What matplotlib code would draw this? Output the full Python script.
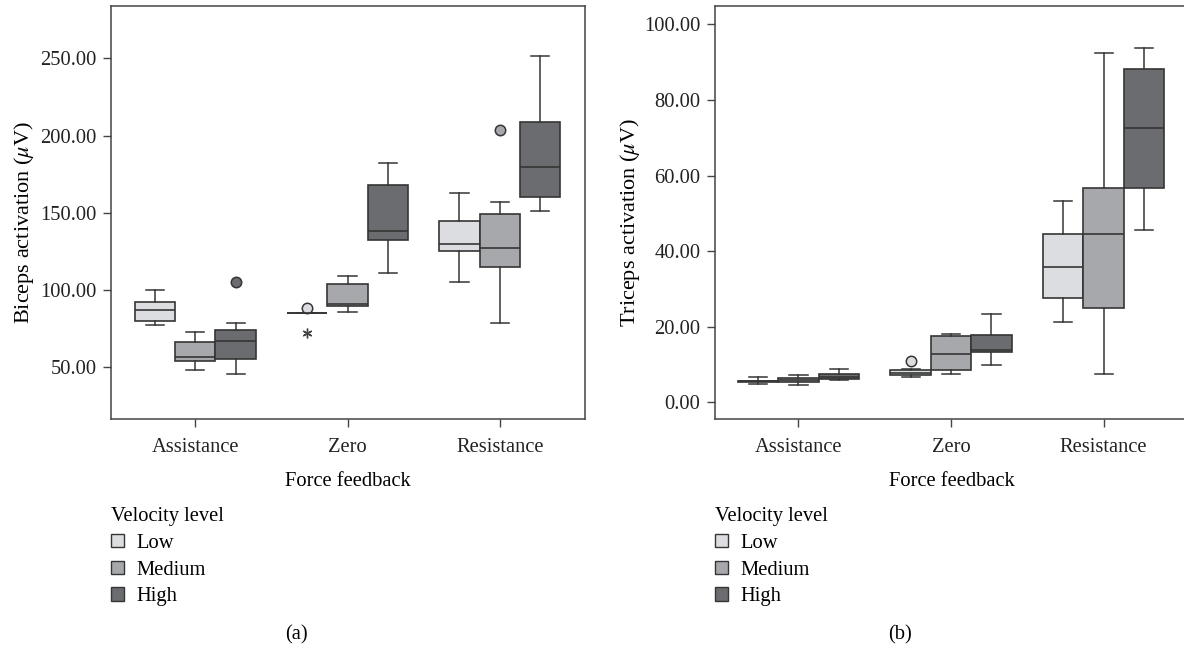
import matplotlib
matplotlib.use("Agg")
import matplotlib.pyplot as plt
from matplotlib.patches import Patch

plt.rcParams["font.family"] = ["Liberation Serif", "DejaVu Serif"]
plt.rcParams["mathtext.fontset"] = "stix"

groups = ["Assistance", "Zero", "Resistance"]
levels = ["Low", "Medium", "High"]
colors = ["#dcdde0", "#a7a8ab", "#6b6c70"]
edge = "#353535"

# box stats per group, per level: (whislo, q1, med, q3, whishi)
biceps = [
    [(77.5, 80.1, 87.4, 92.2, 99.9), (48.6, 54.2, 56.4, 66.1, 72.8), (46.0, 55.5, 67.1, 74.3, 79.0)],
    [(85.3, 85.3, 85.3, 85.3, 85.3), (85.9, 90.0, 91.3, 103.8, 109.4), (111.1, 132.3, 138.3, 168.3, 182.3)],
    [(105.5, 125.2, 130.1, 144.6, 163.1), (79.0, 115.0, 127.5, 149.3, 157.3), (151.0, 160.1, 179.5, 209.0, 251.7)],
]
biceps_fliers = [[[], [], [105.5]], [[88.7], [], []], [[], [203.4], []]]
biceps_extremes = [[[], [], []], [[72.5], [], []], [[], [], []]]

triceps = [
    [(4.7, 5.35, 5.5, 5.65, 6.5), (4.5, 5.2, 5.9, 6.4, 7.2), (5.8, 6.0, 6.6, 7.4, 8.7)],
    [(6.5, 7.2, 7.8, 8.5, 8.7), (7.3, 8.4, 12.7, 17.6, 18.1), (9.8, 13.2, 13.9, 17.7, 23.3)],
    [(21.3, 27.6, 35.7, 44.6, 53.2), (7.3, 24.9, 44.6, 56.8, 92.4), (45.6, 56.8, 72.6, 88.2, 93.9)],
]
triceps_fliers = [[[], [], []], [[10.9], [], []], [[], [], []]]
triceps_extremes = [[[], [], []], [[], [], []], [[], [], []]]

width = 0.265
fs = 14.8


def draw(ax, data, fliers, extremes):
    for g in range(len(groups)):
        for k in range(len(levels)):
            lo, q1, med, q3, hi = data[g][k]
            stats = [dict(whislo=lo, q1=q1, med=med, q3=q3, whishi=hi, fliers=fliers[g][k])]
            pos = g + (k - 1) * width
            ax.bxp(stats, positions=[pos], widths=width, patch_artist=True,
                   capwidths=width * 0.45, manage_ticks=False,
                   boxprops=dict(facecolor=colors[k], edgecolor=edge, linewidth=1.2),
                   medianprops=dict(color=edge, linewidth=1.2),
                   whiskerprops=dict(color=edge, linewidth=1.1),
                   capprops=dict(color=edge, linewidth=1.1),
                   flierprops=dict(marker="o", markersize=7.5, markerfacecolor=colors[k],
                                   markeredgecolor=edge, markeredgewidth=1.1))
            for v in extremes[g][k]:
                ax.plot([pos], [v], marker=(6, 2, 0), markersize=7, color="#444444",
                        markeredgewidth=1.0, linestyle="none")
    ax.set_xticks(range(len(groups)))
    ax.set_xticklabels(groups)
    ax.set_xlabel("Force feedback", fontsize=fs, labelpad=11)
    for s in ax.spines.values():
        s.set_color("#444444")
        s.set_linewidth(1.1)
    ax.tick_params(direction="out", length=5.5, width=1.0, color="#444444",
                   labelsize=fs, labelcolor="#222222")
    ax.tick_params(axis="x", pad=8)
    ax.tick_params(axis="y", pad=5)


fig = plt.figure(figsize=(11.84, 6.52), dpi=100)
ax1 = fig.add_axes([111 / 1184, 1 - 419 / 652, 474 / 1184, 413 / 652])
ax2 = fig.add_axes([715 / 1184, 1 - 419 / 652, 473 / 1184, 413 / 652])

draw(ax1, biceps, biceps_fliers, biceps_extremes)
ax1.set_xlim(-0.553, 2.559)
ax1.set_ylim(16.6, 283.8)
ax1.set_yticks([50, 100, 150, 200, 250])
ax1.set_yticklabels([f"{v:.2f}" for v in [50, 100, 150, 200, 250]])
ax1.set_ylabel(r"Biceps activation ($\mu$V)", fontsize=16)
ax1.yaxis.set_label_coords(-0.159, 0.477)

draw(ax2, triceps, triceps_fliers, triceps_extremes)
ax2.set_xlim(-0.547, 2.553)
ax2.set_ylim(-4.5, 104.9)
ax2.set_yticks([0, 20, 40, 60, 80, 100])
ax2.set_yticklabels([f"{v:.2f}" for v in [0, 20, 40, 60, 80, 100]])
ax2.set_ylabel(r"Triceps activation ($\mu$V)", fontsize=16)
ax2.yaxis.set_label_coords(-0.155, 0.477)

handles = [Patch(facecolor=c, edgecolor=edge, linewidth=1.0) for c in colors]
for x0 in (111 / 1184, 715 / 1184):
    leg = fig.legend(handles, levels, title="Velocity level", loc="upper left",
                     bbox_to_anchor=(x0, 1 - 507 / 652), frameon=False,
                     fontsize=fs, title_fontsize=fs, alignment="left",
                     handlelength=0.63, handleheight=0.63, handletextpad=0.63,
                     labelspacing=0.38, borderpad=0, borderaxespad=0)

fig.text(296 / 1184, 1 - 635 / 652, "(a)", ha="center", va="center", fontsize=fs)
fig.text(900 / 1184, 1 - 635 / 652, "(b)", ha="center", va="center", fontsize=fs)

fig.savefig("out.png", dpi=100)
